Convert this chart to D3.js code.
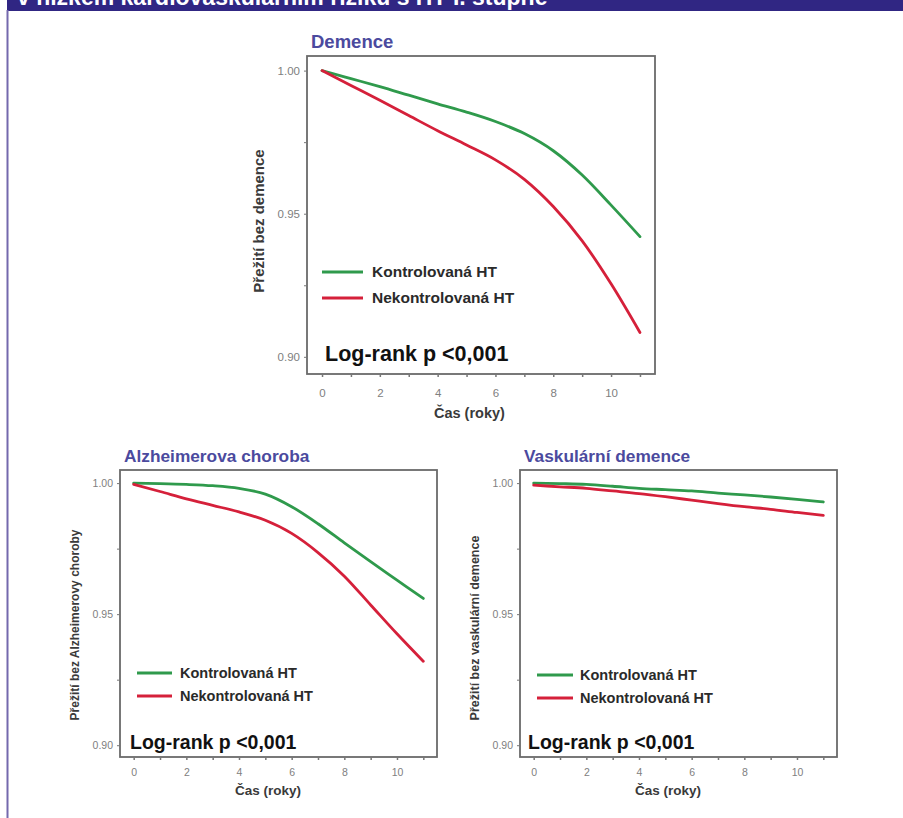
<!DOCTYPE html>
<html><head><meta charset="utf-8">
<script src="https://cdn.jsdelivr.net/npm/d3@7"></script>
<style>
html,body{margin:0;padding:0;background:#fff;}
svg{display:block;font-family:"Liberation Sans",Arial,sans-serif;}
</style></head>
<body>
<svg id="chart" width="903" height="818"></svg>
<script>
// ---- data ----
const headerText = "v nízkém kardiovaskulárním riziku s HT I. stupně";
const years = [0,1,2,3,4,5,6,7,8,9,10,11];
const xTickValues = [0,1,2,3,4,5,6,7,8,9,10,11];
const xTickLabels = [0,2,4,6,8,10];
const yTickValues = [0.90,0.925,0.95,0.975,1.00];
const yTickLabels = [0.90,0.95,1.00];
const seriesNames = ["Kontrolovaná HT","Nekontrolovaná HT"];
const seriesColors = ["#2f9a4c","#d5203a"];

const demenceControlled   = [1.000,0.9972,0.9944,0.9914,0.9884,0.9855,0.9822,0.9780,0.9720,0.9635,0.9530,0.9420];
const demenceUncontrolled = [1.000,0.9948,0.9896,0.9843,0.9790,0.9740,0.9688,0.9620,0.9525,0.9405,0.9255,0.9085];
const alzControlled       = [1.000,0.9998,0.9995,0.9990,0.9980,0.9958,0.9910,0.9845,0.9772,0.9700,0.9630,0.9560];
const alzUncontrolled     = [0.9995,0.9968,0.9940,0.9915,0.9890,0.9858,0.9808,0.9735,0.9645,0.9535,0.9425,0.9320];
const vascControlled      = [1.000,0.9998,0.9995,0.9988,0.9980,0.9975,0.9970,0.9962,0.9955,0.9947,0.9938,0.9928];
const vascUncontrolled    = [0.9992,0.9986,0.9980,0.9970,0.9960,0.9948,0.9935,0.9922,0.9910,0.9900,0.9888,0.9877];

const panels = [
  {title:"Demence", ylabel:"Přežití bez demence", s:[demenceControlled,demenceUncontrolled],
   x0:307,x1:655,y0:56,y1:374, yDom:[0.894,1.0051], titleSize:18.5, ylab:15, xlab:14.5, tick:11.5, legSize:15.5, lrSize:21.5,
   legX:[322,363,372], legY:[272,298], lrX:325, lrY:361, xlabY:418, ylabX:264, ylabC:221, tickLabY:393},
  {title:"Alzheimerova choroba", ylabel:"Přežití bez Alzheimerovy choroby", s:[alzControlled,alzUncontrolled],
   x0:120,x1:437,y0:470,y1:757, yDom:[0.8955,1.005], titleSize:17.3, ylab:12, xlab:13.5, tick:10.5, legSize:14.5, lrSize:19.5,
   legX:[137,172,180], legY:[673,696], lrX:130, lrY:749, xlabY:795, ylabX:79, ylabC:625, tickLabY:772},
  {title:"Vaskulární demence", ylabel:"Přežití bez vaskulární demence", s:[vascControlled,vascUncontrolled],
   x0:520,x1:837,y0:470,y1:757, yDom:[0.8955,1.005], titleSize:17.3, ylab:12.5, xlab:13.5, tick:10.5, legSize:14.5, lrSize:19.5,
   legX:[537,573,580], legY:[675,698], lrX:528, lrY:749, xlabY:795, ylabX:479, ylabC:628, tickLabY:772}
];

const svg = d3.select("#chart");

// header bar
svg.append("rect").attr("x",7).attr("y",0).attr("width",896).attr("height",11).attr("fill","#302683");
svg.append("text").attr("x",17).attr("y",5).attr("fill","#fff").attr("font-weight","bold")
  .attr("font-size",23).text(headerText);
// left border line
svg.append("rect").attr("x",6.5).attr("y",10).attr("width",2).attr("height",808).attr("fill","#7469ad");

panels.forEach(p=>{
  const x = d3.scaleLinear().domain([-0.52,11.52]).range([p.x0,p.x1]);
  const y = d3.scaleLinear().domain(p.yDom).range([p.y1,p.y0]);
  const g = svg.append("g");

  // frame
  g.append("rect").attr("x",p.x0).attr("y",p.y0).attr("width",p.x1-p.x0).attr("height",p.y1-p.y0)
    .attr("fill","#fff").attr("stroke","#6a6a6a").attr("stroke-width",1.8);

  // y axis
  const yAxis = d3.axisLeft(y).tickValues(yTickValues).tickSize(3)
    .tickFormat(d=> yTickLabels.some(v=>Math.abs(v-d)<1e-9) ? d3.format(".2f")(d) : "");
  const ya = g.append("g").attr("transform",`translate(${p.x0},0)`).call(yAxis);
  ya.select(".domain").remove();
  ya.selectAll("line").attr("stroke","#777");
  ya.selectAll("text").attr("fill","#808080").attr("font-size",p.tick).attr("font-family","Liberation Sans, Arial, sans-serif").attr("dx","-1");

  // x axis
  const xAxis = d3.axisBottom(x).tickValues(xTickValues).tickSize(3)
    .tickFormat(d=> xTickLabels.includes(d) ? d : "");
  const xa = g.append("g").attr("transform",`translate(0,${p.y1})`).call(xAxis);
  xa.select(".domain").remove();
  xa.selectAll("line").attr("stroke","#777").attr("stroke-width",1.5);
  xa.selectAll("text").attr("fill","#808080").attr("font-size",p.tick).attr("font-family","Liberation Sans, Arial, sans-serif")
    .attr("y", p.tickLabY - p.y1).attr("dy","0.35em");

  // title
  g.append("text").attr("x",p.x0+4).attr("y",p.y0-8).attr("fill","#4b4a9e").attr("font-weight","bold")
    .attr("font-size",p.titleSize).text(p.title);

  // axis labels
  g.append("text").attr("x",x(5.1)).attr("y",p.xlabY).attr("text-anchor","middle")
    .attr("font-weight","bold").attr("font-size",p.xlab).attr("fill","#3a3a3a").text("Čas (roky)");
  g.append("text").attr("transform",`translate(${p.ylabX},${p.ylabC}) rotate(-90)`)
    .attr("text-anchor","middle").attr("font-weight","bold").attr("font-size",p.ylab).attr("fill","#3a3a3a").text(p.ylabel);

  // lines
  const line = d3.line().x((d,i)=>x(years[i])).y(d=>y(d)).curve(d3.curveMonotoneX);
  p.s.forEach((vals,i)=>{
    g.append("path").datum(vals).attr("d",line).attr("fill","none")
      .attr("stroke",seriesColors[i]).attr("stroke-width",2.8).attr("stroke-linecap","round");
  });

  // legend
  seriesNames.forEach((n,i)=>{
    g.append("line").attr("x1",p.legX[0]).attr("x2",p.legX[1]).attr("y1",p.legY[i]).attr("y2",p.legY[i])
      .attr("stroke",seriesColors[i]).attr("stroke-width",3);
    g.append("text").attr("x",p.legX[2]).attr("y",p.legY[i]).attr("dy","0.35em")
      .attr("font-weight","bold").attr("font-size",p.legSize).attr("fill","#2a2a2a").text(n);
  });

  g.append("text").attr("x",p.lrX).attr("y",p.lrY).attr("font-weight","bold").attr("font-size",p.lrSize)
    .attr("fill","#111").text("Log-rank p <0,001");
});
</script>
</body></html>
